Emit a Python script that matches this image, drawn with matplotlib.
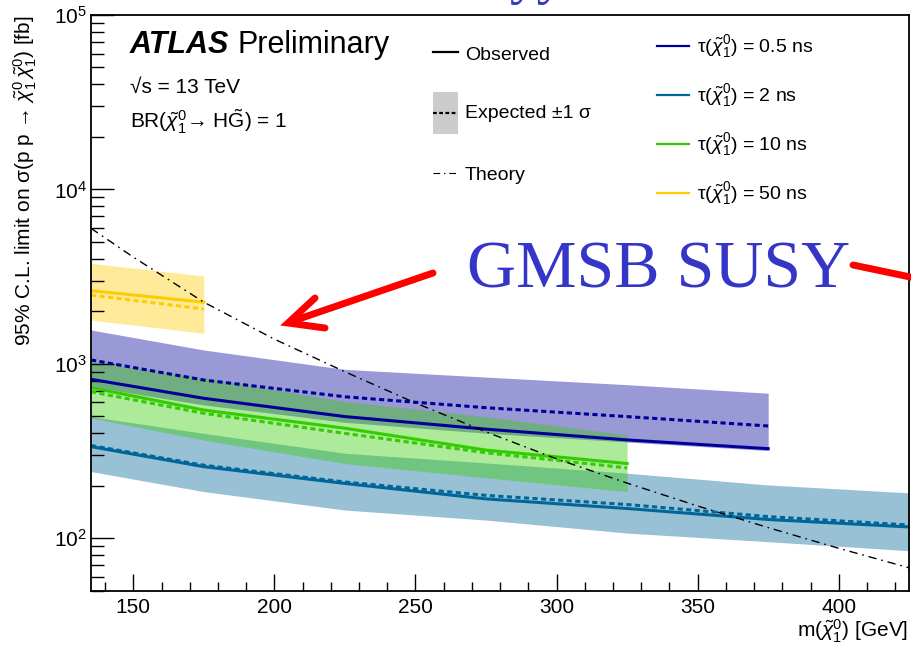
import matplotlib
matplotlib.use('Agg')
import matplotlib.pyplot as plt
from matplotlib.lines import Line2D
from matplotlib.patches import Rectangle
from matplotlib.ticker import MultipleLocator, LogLocator, NullFormatter

plt.rcParams['font.family'] = ['Liberation Sans', 'DejaVu Sans']
plt.rcParams['mathtext.fontset'] = 'custom'
plt.rcParams['mathtext.rm'] = 'Liberation Sans'
plt.rcParams['mathtext.it'] = 'Liberation Sans:italic'
plt.rcParams['mathtext.bf'] = 'Liberation Sans:bold'

W, H = 911, 652

# neutralino masses [GeV]
masses = [135, 175, 225, 275, 325, 375, 425]

# tau = 0.5 ns (up to 375 GeV)
obs_05 = [815, 634, 498, 422, 366, 326]
exp_05 = [1052, 807, 647, 560, 498, 440]
up_05 = [1563, 1200, 929, 839, 759, 678]
dn_05 = [740, 581, 462, 400, 356, 318]

# tau = 2 ns (up to 425 GeV)
obs_2 = [335, 257, 206, 168, 148, 128, 116]
exp_2 = [340, 262, 210, 176, 156, 133, 119]
up_2 = [498, 399, 307, 270, 236, 202, 182]
dn_2 = [241, 185, 145, 127, 107, 95.5, 84.7]

# tau = 10 ns (up to 325 GeV)
obs_10 = [730, 543, 427, 320, 268]
exp_10 = [692, 520, 399, 309, 253]
up_10 = [1030, 830, 607, 497, 391]
dn_10 = [489, 365, 268, 222, 185]

# tau = 50 ns (up to 175 GeV)
obs_50 = [2625, 2255]
exp_50 = [2478, 2061]
up_50 = [3770, 3186]
dn_50 = [1782, 1496]

# theory cross section
theory_m = [135, 150, 175, 200, 225, 250, 275, 300, 325, 350, 375, 400, 425]
theory_xs = [5980, 4090, 2255, 1384, 900, 596, 407, 285, 207, 153, 115, 87.5, 67.6]

CHI = r'$\tilde{\chi}^{0}_{1}$'
lifetimes = ['0.5', '2', '10', '50']
colors = ['#000099', '#006699', '#33cc00', '#ffcc00']


def fx(x):
    return x / W


def fy(y):
    return 1 - y / H


fig = plt.figure(figsize=(W / 100, H / 100), dpi=100)
ax = fig.add_axes([fx(91), fy(590.7), (909.3 - 91) / W, (590.7 - 15) / H])

band_alpha = 0.4
dash = (1.7, 1.1)
lw = 2.2

# 0.5 ns and 2 ns drawn first, 10 ns band is laid on top of them
n = len(obs_05)
ax.fill_between(masses[:n], dn_05, up_05, color=colors[0], alpha=band_alpha, lw=0)
n2 = len(obs_2)
ax.fill_between(masses[:n2], dn_2, up_2, color=colors[1], alpha=band_alpha, lw=0)
ax.plot(masses[:n], exp_05, color=colors[0], lw=lw, dashes=dash)
ax.plot(masses[:n], obs_05, color=colors[0], lw=lw)
ax.plot(masses[:n2], exp_2, color=colors[1], lw=lw, dashes=dash)
ax.plot(masses[:n2], obs_2, color=colors[1], lw=lw)

n10 = len(obs_10)
ax.fill_between(masses[:n10], dn_10, up_10, color=colors[2], alpha=band_alpha, lw=0)
ax.plot(masses[:n10], exp_10, color=colors[2], lw=lw, dashes=dash)
ax.plot(masses[:n10], obs_10, color=colors[2], lw=lw)

n50 = len(obs_50)
ax.fill_between(masses[:n50], dn_50, up_50, color=colors[3], alpha=band_alpha, lw=0)
ax.plot(masses[:n50], exp_50, color=colors[3], lw=lw, dashes=dash)
ax.plot(masses[:n50], obs_50, color=colors[3], lw=lw)

ax.plot(theory_m, theory_xs, color='k', lw=1.0, dashes=(6, 3.5, 1.2, 3.5), zorder=5)

ax.set_yscale('log')
ax.set_xlim(135, 425)
ax.set_ylim(50, 1e5)
ax.xaxis.set_major_locator(MultipleLocator(50))
ax.xaxis.set_minor_locator(MultipleLocator(10))
ax.yaxis.set_major_locator(LogLocator(base=10))
ax.yaxis.set_minor_locator(LogLocator(base=10, subs=range(2, 10)))
ax.yaxis.set_minor_formatter(NullFormatter())
ax.tick_params(which='both', direction='in', top=False, right=False,
               labelsize=15, width=1.0, color='k')
ax.tick_params(axis='x', which='major', length=12.5, pad=5)
ax.tick_params(axis='x', which='minor', length=6.5)
ax.tick_params(axis='y', which='major', length=16.5, pad=3)
ax.tick_params(axis='y', which='minor', length=9.4)
for s in ax.spines.values():
    s.set_linewidth(1.3)

# axis titles, right/top aligned
fig.text(fx(908), fy(637), 'm(' + CHI + ') [GeV]', ha='right', va='baseline', fontsize=15)
fig.text(fx(25), fy(15),
         r'95% C.L. limit on σ(p p → ' + r'$\tilde{\chi}^{0}_{1}\,\tilde{\chi}^{0}_{1}$' + ') [fb]',
         rotation=90, ha='center', va='top', fontsize=15)

# labels
fig.text(fx(130), fy(53), 'ATLAS', fontsize=22, fontweight='bold', fontstyle='italic', va='baseline')
fig.text(fx(238), fy(53), 'Preliminary', fontsize=22, va='baseline')
fig.text(fx(130), fy(93), '√s = 13 TeV', fontsize=15, va='baseline')
fig.text(fx(130), fy(128), 'BR(' + CHI + '→ H' + r'$\tilde{\mathrm{G}}$' + ') = 1',
         fontsize=15, va='baseline')

# legend, left column
fig.add_artist(Line2D([fx(433), fx(458)], [fy(52), fy(52)], color='k', lw=1.6))
fig.text(fx(465), fy(60), 'Observed', fontsize=14, va='baseline')
fig.add_artist(Rectangle((fx(433), fy(134.3)), 25 / W, 42.6 / H, color='#cccccc', lw=0))
fig.add_artist(Line2D([fx(433), fx(458)], [fy(113), fy(113)], color='k', lw=1.6, dashes=(1.7, 1.1)))
fig.text(fx(465), fy(118.3), 'Expected ±1 σ', fontsize=14, va='baseline')
fig.add_artist(Line2D([fx(433), fx(458)], [fy(173), fy(173)], color='k', lw=0.8, dashes=(6, 3.5, 1.2, 3.5)))
fig.text(fx(465), fy(180), 'Theory', fontsize=14, va='baseline')

# legend, right column
for i, (lt, c) in enumerate(zip(lifetimes, colors)):
    yl = 46 + 49 * i
    fig.add_artist(Line2D([fx(657), fx(689)], [fy(yl), fy(yl)], color=c, lw=1.6))
    fig.text(fx(697), fy(yl + 6.5), 'τ(' + CHI + ') = ' + lt + ' ns', fontsize=14, va='baseline')

# annotation
blue = '#3535c8'
fig.text(fx(467), fy(287), 'GMSB SUSY', family='Liberation Serif', fontsize=49,
         color=blue, va='baseline')
fig.text(fx(509), fy(-7), 'yy', family='Liberation Serif', fontsize=40, color=blue, va='baseline')

red = '#ff0000'
fig.add_artist(Line2D([fx(433), fx(290)], [fy(273), fy(322)], color=red, lw=5,
                      solid_capstyle='round'))
fig.add_artist(Line2D([fx(315), fx(288), fx(325)], [fy(298), fy(323), fy(328)], color=red, lw=5,
                      solid_capstyle='round', solid_joinstyle='miter'))
fig.add_artist(Line2D([fx(853), fx(915)], [fy(265), fy(278)], color=red, lw=5,
                      solid_capstyle='round'))

fig.savefig('out.png', dpi=100)
